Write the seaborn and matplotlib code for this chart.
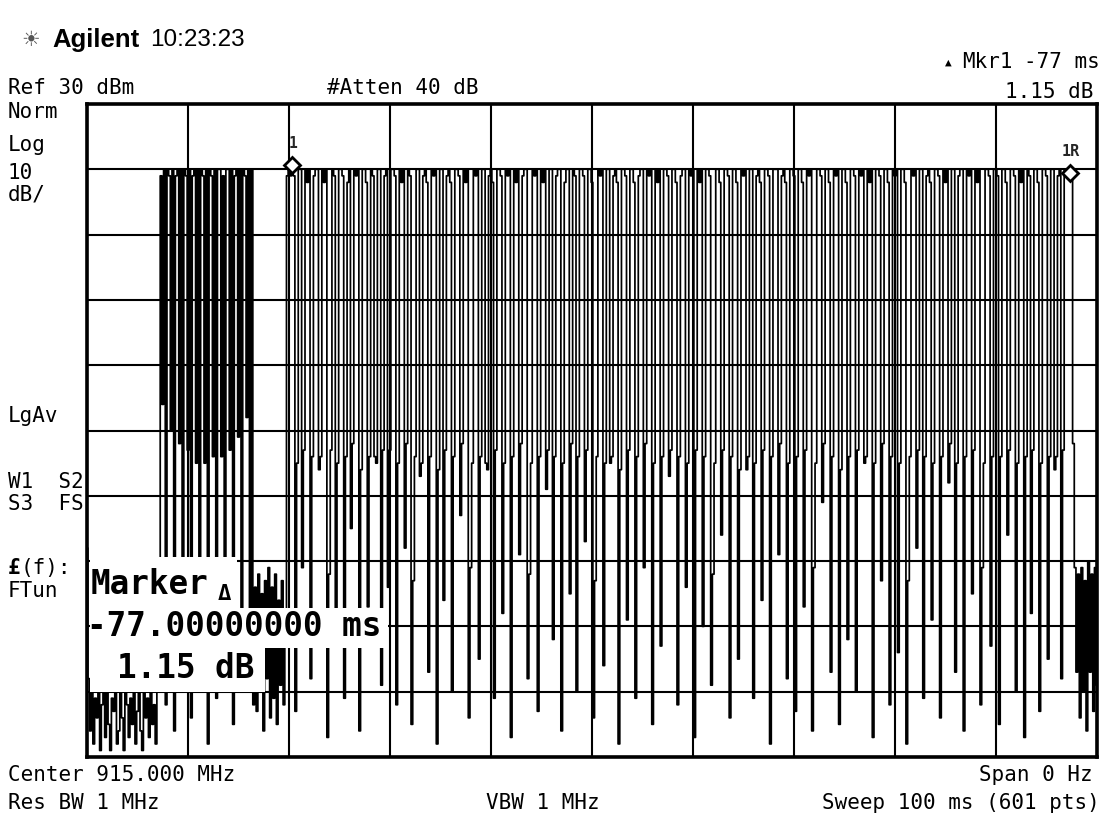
import numpy as np
import pandas as pd
import matplotlib
matplotlib.use("Agg")
import matplotlib.pyplot as plt
import seaborn as sns
from matplotlib.patches import Rectangle

# Analyzer settings
REF_LEVEL_DBM = 30
DB_PER_DIV = 10
N_DIV = 10
SWEEP_MS = 100
SWEEP_POINTS = 601

# Zero-span trace at 915 MHz, dBm, 60 points per 10 ms division
sweep_00_10ms = [
    -38, -58, -66, -60, -68, -61, -64, -59, -69, -62,
    -60, -67, -58, -65, -69, -61, -63, -59, -68, -66,
    -60, -64, -69, -58, -62, -67, -61, -65, -59, -68,
    -63, -60, -66, -69, -58, -64, -61, -67, -60, -65,
    -62, -68, -59, -57, 19, -16, 20, -62, 20, 19,
    -20, 20, -66, 19, 20, -22, 20, -55, 20, 19,
]
sweep_10_20ms = [
    -23, 20, -64, 19, 20, -25, 20, -58, 20, 19,
    -25, 20, -68, 20, 19, -24, 20, -61, 20, 20,
    -24, 19, -57, 20, 20, -23, 20, -65, 19, 20,
    -21, 20, -60, 20, 19, -18, 20, -56, 20, -62,
    -44, -63, -42, -60, -45, -66, -43, -58, -41, -64,
    -44, -61, -42, -65, -46, -59, -43, -62, -50, 19,
]
sweep_20_30ms = [
    20, 19, 20.6, 19, -63, -25, 20, 20, -41, -23,
    20, 18, 20, -58, -24, 19, 20, 20, -26, -24,
    20, 18, 20, -67, -42, -23, 20, 19, -52, -25,
    20, 20, 19, -61, -24, 18, 20, -35, -22, 20,
    19, 20, -66, -26, 20, 20, 18, -47, -24, 20,
    19, -24, -25, 20, 20, -59, -23, 19, 20, -44,
]
sweep_30_40ms = [
    -23, 20, 20, 19, -62, -25, 20, 18, 20, -38,
    -22, 20, 19, -65, -43, -24, 20, 20, -27, -25,
    19, 20, 18, -57, -24, 20, 19, 20, -68, -26,
    20, 20, -46, -23, 19, 20, 18, -60, -24, 20,
    20, 19, -33, -22, 20, 18, 20, -64, -41, -25,
    20, 19, 20, -55, -24, 20, 20, -25, -26, 19,
]
sweep_40_50ms = [
    20, 18, -61, -23, 20, 20, 19, -48, -25, 20,
    19, 20, -67, -24, 20, 18, 20, -39, -22, 19,
    20, 20, -58, -42, -25, 20, 19, 20, -63, -24,
    20, 18, 20, -29, -23, 20, 20, -52, -24, 19,
    20, 20, -66, -25, 18, 20, 20, -45, -22, 20,
    19, -60, -24, 20, 20, 19, -37, -23, 20, 20,
]
sweep_50_60ms = [
    18, -64, -43, -24, 20, 19, 20, -56, -25, 20,
    20, -25, -24, 19, 20, 18, -68, -26, 20, 20,
    19, -49, -23, 20, 20, 18, -61, -24, 19, 20,
    20, -41, -22, 20, 19, 20, -65, -25, 20, 18,
    20, -53, -24, 20, 20, 19, -27, -23, 20, 20,
    18, -62, -24, 19, 20, 20, -44, -25, 20, 19,
]
sweep_60_70ms = [
    20, -67, -23, 20, 18, 20, -50, -24, 20, 20,
    19, -59, -42, -25, 20, 20, 18, -36, -23, 20,
    20, 19, -64, -24, 20, 20, 18, -55, -26, 20,
    19, 20, -26, -24, 20, 20, -61, -25, 19, 20,
    18, -46, -23, 20, 20, 19, -68, -24, 20, 20,
    20, -39, -22, 19, 20, 18, -58, -25, 20, 20,
]
sweep_70_80ms = [
    19, -63, -24, 20, 20, 18, -47, -23, 20, 19,
    20, -66, -41, -25, 20, 20, 19, -31, -22, 20,
    20, 18, -57, -24, 20, 19, 20, -65, -26, 20,
    20, 18, -52, -24, 20, 20, 19, -60, -23, 20,
    19, 20, -25, -24, 20, 18, 20, -67, -25, 20,
    20, 19, -43, -22, 20, 20, 18, -62, -24, 20,
]
sweep_80_90ms = [
    19, 20, -54, -25, 20, 20, 18, -68, -43, -24,
    20, 19, 20, -38, -23, 20, 20, -61, -24, 19,
    20, 18, -49, -25, 20, 20, 19, -64, -24, 20,
    18, 20, -28, -22, 20, 20, -57, -25, 19, 20,
    20, -66, -24, 20, 19, 20, -45, -23, 20, 18,
    20, -62, -41, -25, 20, 20, 19, -53, -24, 20,
]
sweep_90_100ms = [
    20, 19, -65, -24, 20, 20, 18, -36, -23, 20,
    20, 19, -60, -25, 20, 18, 20, -67, -24, 20,
    19, -48, -23, 20, 20, 18, -63, -25, 20, 20,
    19, -55, -24, 20, 20, -26, -24, 19, 20, -58,
    -23, 20, 19, 20, 19.45, 19, -22, -41, -57, -42,
    -64, -41, -60, -43, -66, -40, -57, -42, -63, -41,
    -59,
]

# Delta marker pair (sweep point indices)
MKR1_POINT = 122
MKR1_REF_POINT = 584

trace = np.array(
    sweep_00_10ms + sweep_10_20ms + sweep_20_30ms + sweep_30_40ms
    + sweep_40_50ms + sweep_50_60ms + sweep_60_70ms + sweep_70_80ms
    + sweep_80_90ms + sweep_90_100ms, dtype=float)
time_ms = np.arange(len(trace)) * SWEEP_MS / (SWEEP_POINTS - 1)
df = pd.DataFrame({"time_ms": time_ms, "level_dbm": trace})

sns.set_theme(style="white")
MONO = ["DejaVu Sans Mono", "DejaVu Sans"]
plt.rcParams["font.family"] = MONO

W, H = 1107, 819
fig = plt.figure(figsize=(W / 100, H / 100), dpi=100)
fig.patch.set_facecolor("white")

# graticule area in pixels
GX0, GX1, GY0, GY1 = 87, 1097, 104, 757
ax = fig.add_axes([GX0 / W, 1 - GY1 / H, (GX1 - GX0) / W, (GY1 - GY0) / H])
ax.set_facecolor("white")

# display trace: each sweep point held for its bucket width
sns.lineplot(data=df, x="time_ms", y="level_dbm", ax=ax, color="black",
             linewidth=1.25, estimator=None, sort=False, legend=False, zorder=2,
             drawstyle="steps-mid")

bottom = REF_LEVEL_DBM - N_DIV * DB_PER_DIV
ax.set_xlim(0, SWEEP_MS)
ax.set_ylim(bottom, REF_LEVEL_DBM)
ax.set_xticks(np.linspace(0, SWEEP_MS, N_DIV + 1))
ax.set_yticks(np.arange(bottom, REF_LEVEL_DBM + 1, DB_PER_DIV))
ax.tick_params(length=0, labelbottom=False, labelleft=False)
ax.set_xlabel("")
ax.set_ylabel("")
ax.grid(True, color="black", linewidth=1.5)
for sp in ax.spines.values():
    sp.set_visible(True)
    sp.set_color("black")
    sp.set_linewidth(2.6)
    sp.set_zorder(6)

# markers
t1, v1 = df.loc[MKR1_POINT, "time_ms"], df.loc[MKR1_POINT, "level_dbm"]
tr, vr = df.loc[MKR1_REF_POINT, "time_ms"], df.loc[MKR1_REF_POINT, "level_dbm"]
ax.plot([t1, tr], [v1, vr], linestyle="none", marker="D", markersize=8,
        markerfacecolor="white", markeredgecolor="black", markeredgewidth=2,
        zorder=7, clip_on=False)
ax.annotate("1", (t1, v1), xytext=(1, 22), textcoords="offset pixels",
            ha="center", va="center", fontsize=10.5, fontweight="bold", zorder=7)
ax.annotate("1R", (tr, vr), xytext=(1, 21), textcoords="offset pixels",
            ha="center", va="center", fontsize=11, fontweight="bold", zorder=7)


def px(x, y):
    return x / W, 1 - y / H


def ftext(x, y, s, **kw):
    kw.setdefault("va", "center")
    kw.setdefault("fontsize", 15)
    kw.setdefault("color", "black")
    fig.text(*px(x, y), s, **kw)


# marker readout block (white backing per line)
for (x0, y0, x1, y1) in [(90, 557, 237, 608), (90, 608, 388, 648), (90, 648, 265, 692)]:
    ax.add_patch(Rectangle(px(x0, y1), (x1 - x0) / W, (y1 - y0) / H,
                           transform=fig.transFigure, facecolor="white",
                           edgecolor="none", zorder=4))
BOX = dict(fontsize=23.5, va="center", fontweight="bold", zorder=8,
           color="black", transform=fig.transFigure)
ax.text(*px(91, 584), "Marker", ha="left", **BOX)
ax.text(*px(224, 594), "Δ", ha="center", fontsize=16, fontweight="bold",
        va="center", zorder=8, color="black", transform=fig.transFigure)
ax.text(*px(87, 627), "-77.00000000 ms", ha="left", **BOX)
ax.text(*px(117, 668), "1.15 dB", ha="left", **BOX)

# header
ftext(31, 40, "☀", ha="center", fontsize=15, color="#555555", family=["DejaVu Sans"])
ftext(52, 40, "Agilent", ha="left", fontsize=18.5, fontweight="bold",
      family=["Liberation Sans", "DejaVu Sans"])
ftext(150, 40, "10:23:23", ha="left", fontsize=17.5,
      family=["Liberation Sans", "DejaVu Sans"])

# top annotations
ftext(8, 88, "Ref 30 dBm", ha="left")
ftext(403, 88, "#Atten 40 dB", ha="center")
ftext(948, 63, "▲", ha="center", fontsize=8)
ftext(962, 62, "Mkr1", ha="left")
ftext(1100, 62, "-77 ms", ha="right")
ftext(1093, 92, "1.15 dB", ha="right")

# left annotation column
for y, s in [(112, "Norm"), (145, "Log"), (173, "10"), (195, "dB/"),
             (416, "LgAv"), (482, "W1  S2"), (504, "S3  FS"), (591, "FTun")]:
    ftext(8, y, s, ha="left")
ftext(8, 568, "£", ha="left", fontweight="bold")
ftext(21, 568, "(f):", ha="left")

# bottom annotations
ftext(8, 775, "Center 915.000 MHz", ha="left")
ftext(1093, 775, "Span 0 Hz", ha="right")
ftext(8, 803, "Res BW 1 MHz", ha="left")
ftext(543, 803, "VBW 1 MHz", ha="center")
ftext(1100, 803, "Sweep 100 ms (601 pts)", ha="right")

fig.savefig("out.png", dpi=100, facecolor="white")
